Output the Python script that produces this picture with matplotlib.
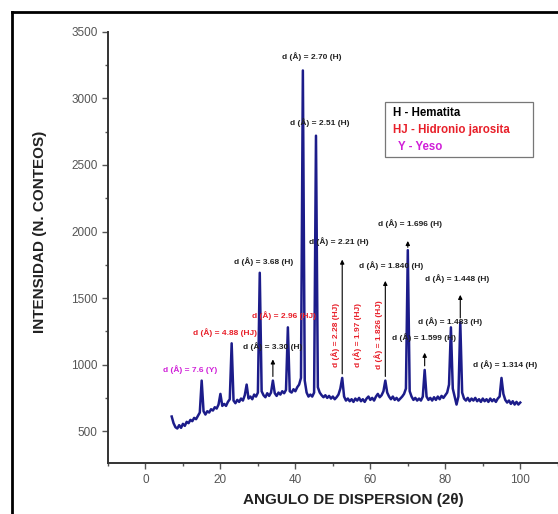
import numpy as np
import matplotlib
matplotlib.use("Agg")
import matplotlib.pyplot as plt
from matplotlib.lines import Line2D
from matplotlib.patches import Rectangle

plt.rcParams['font.family'] = ['Liberation Sans', 'DejaVu Sans']

# difractograma, paso de 0.5 grados (2 theta) desde 7 hasta 100
two_theta = np.arange(7.0, 100.01, 0.5)
intensity = [
    610, 560, 530, 520, 545, 525, 555, 540, 570, 560,      # 7.0 - 11.5
    585, 575, 600, 590, 615, 640, 880, 650, 625, 650,      # 12.0 - 16.5
    640, 665, 655, 680, 670, 700, 780, 690, 705, 690,      # 17.0 - 21.5
    720, 740, 1160, 730, 710, 735, 720, 745, 730, 770,     # 22.0 - 26.5
    850, 745, 760, 740, 775, 760, 790, 1690, 800, 770,     # 27.0 - 31.5
    755, 785, 765, 790, 880, 785, 765, 790, 775, 800,      # 32.0 - 36.5
    785, 810, 1280, 800, 790, 815, 800, 830, 850, 900,     # 37.0 - 41.5
    3210, 880, 790, 760, 775, 760, 790, 2720, 830, 790,    # 42.0 - 46.5
    770, 755, 770, 750, 765, 745, 760, 740, 755, 775,      # 47.0 - 51.5
    820, 900, 760, 730, 745, 725, 740, 720, 745, 730,      # 52.0 - 56.5
    750, 725, 740, 720, 745, 760, 735, 750, 730, 760,      # 57.0 - 61.5
    780, 755, 770, 800, 880, 790, 760, 740, 760, 735,      # 62.0 - 66.5
    750, 730, 745, 760, 780, 820, 1860, 800, 760, 735,     # 67.0 - 71.5
    750, 730, 745, 730, 760, 960, 760, 735, 750, 730,      # 72.0 - 76.5
    755, 735, 760, 740, 765, 750, 770, 790, 850, 1280,     # 77.0 - 81.5
    820, 760, 700, 760, 1320, 790, 745, 730, 750, 725,     # 82.0 - 86.5
    745, 730, 750, 725, 740, 720, 745, 725, 740, 720,      # 87.0 - 91.5
    745, 725, 740, 720, 745, 760, 900, 780, 735, 715,      # 92.0 - 96.5
    730, 705, 725, 700, 720, 700, 715,                     # 97.0 - 100.0
]

# etiquetas d(A): texto, x, y
labels_h = ["d (Å) = 2.70 (H)", "d (Å) = 2.51 (H)", "d (Å) = 3.68 (H)", "d (Å) = 3.30 (H)",
            "d (Å) = 2.21 (H)", "d (Å) = 1.840 (H)", "d (Å) = 1.696 (H)", "d (Å) = 1.599 (H)",
            "d (Å) = 1.483 (H)", "d (Å) = 1.448 (H)", "d (Å) = 1.314 (H)"]
labels_h_x = [44.5, 46.4, 31.5, 33.9, 51.7, 65.6, 70.7, 74.4, 81.3, 83.2, 96.0]
labels_h_y = [3312, 2816, 1778, 1132, 1921, 1741, 2057, 1207, 1327, 1643, 1004]

labels_hj = ["d (Å) = 4.88 (HJ)", "d (Å) = 2.96 (HJ)"]
labels_hj_x = [21.3, 37.1]
labels_hj_y = [1244, 1372]

labels_hj_vert = ["d (Å) = 2.28 (HJ)", "d (Å) = 1.97 (HJ)", "d (Å) = 1.826 (HJ)"]
labels_hj_vert_x = [50.7, 56.5, 62.1]
labels_hj_vert_y = [1222, 1222, 1222]

labels_y = ["d (Å) = 7.6 (Y)"]
labels_y_x = [12.0]
labels_y_y = [966]

# flechas: x, y inicio, y punta
arrow_x = [34.0, 52.5, 64.0, 70.0, 74.5, 84.0]
arrow_y0 = [890, 910, 890, 1860, 970, 1330]
arrow_y1 = [1060, 1810, 1650, 1950, 1110, 1545]

legend_txt = ["H - Hematita", "HJ - Hidronio jarosita", "Y - Yeso"]
legend_col = ["black", "#e8202a", "#d020d8"]

fig = plt.figure(figsize=(5.58, 5.14), dpi=100)
ax = fig.add_axes([0.1935, 0.099, 0.806, 0.839])

ax.plot(two_theta, intensity, color="#1c1c8a", lw=1.8)

fs = 6.0
for t, x, y in zip(labels_h, labels_h_x, labels_h_y):
    ax.text(x, y, t, fontsize=fs, fontweight="bold", color="#222222", ha="center", va="center")
for t, x, y in zip(labels_hj, labels_hj_x, labels_hj_y):
    ax.text(x, y, t, fontsize=fs, fontweight="bold", color="#e8202a", ha="center", va="center")
for t, x, y in zip(labels_hj_vert, labels_hj_vert_x, labels_hj_vert_y):
    ax.text(x, y, t, fontsize=fs, fontweight="bold", color="#e8202a", ha="center", va="center",
            rotation=90)
for t, x, y in zip(labels_y, labels_y_x, labels_y_y):
    ax.text(x, y, t, fontsize=fs, fontweight="bold", color="#d020d8", ha="center", va="center")

for x, y0, y1 in zip(arrow_x, arrow_y0, arrow_y1):
    ax.annotate("", xy=(x, y1), xytext=(x, y0),
                arrowprops=dict(arrowstyle="-|>", color="black", lw=0.8, mutation_scale=6))

# cuadro de leyenda
ax.add_patch(Rectangle((64.0, 2560), 39.5, 414, fill=False, edgecolor="#777777", lw=0.9))
for i, (t, c) in enumerate(zip(legend_txt, legend_col)):
    ax.text(66.1 + (1.3 if i == 2 else 0), 2891 - i * 127, t, fontsize=8.3, fontweight="bold",
            color=c, ha="left", va="center")

ax.set_xlim(-10, 110)
ax.set_ylim(260, 3500)
ax.set_xticks([0, 20, 40, 60, 80, 100])
ax.set_xticks(np.arange(-10, 111, 10), minor=True)
ax.set_yticks([500, 1000, 1500, 2000, 2500, 3000, 3500])
ax.set_yticks(np.arange(750, 3500, 500), minor=True)
ax.spines["top"].set_visible(False)
ax.spines["right"].set_visible(False)
for s in ["left", "bottom"]:
    ax.spines[s].set_linewidth(1.4)
    ax.spines[s].set_color("#333333")
ax.tick_params(which="both", direction="out", colors="#555555", labelsize=8.5, width=1)
ax.tick_params(which="major", length=4)
ax.tick_params(which="minor", length=2.5)

fig.text(40 / 558, 1 - 232 / 514, "INTENSIDAD (N. CONTEOS)", rotation=90, fontsize=11,
         fontweight="bold", color="#222222", ha="center", va="center")
fig.text(353 / 558, 1 - 500 / 514, "ANGULO DE DISPERSION (2θ)", fontsize=11,
         fontweight="bold", color="#222222", ha="center", va="center")

# marco exterior
fig.add_artist(Line2D([12 / 558, 12 / 558], [0, 1 - 12 / 514], color="black", lw=2))
fig.add_artist(Line2D([12 / 558, 1], [1 - 12 / 514, 1 - 12 / 514], color="black", lw=2))

fig.savefig("out.png", dpi=100)
